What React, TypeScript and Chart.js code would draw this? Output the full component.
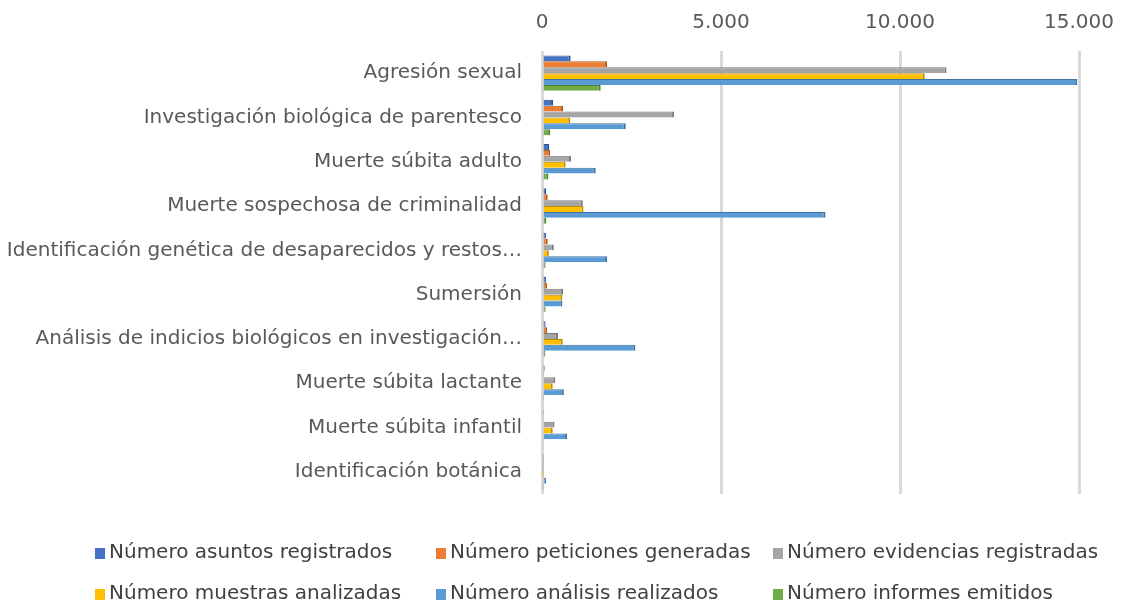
import React, { useEffect, useRef } from "react";
import { Chart, registerables } from "chart.js";

Chart.register(...registerables);

const categories = [
  "Agresión sexual",
  "Investigación biológica de parentesco",
  "Muerte súbita adulto",
  "Muerte sospechosa de criminalidad",
  "Identificación genética de desaparecidos y restos…",
  "Sumersión",
  "Análisis de indicios biológicos en investigación…",
  "Muerte súbita lactante",
  "Muerte súbita infantil",
  "Identificación botánica",
];

const seriesNames = [
  "Número asuntos registrados",
  "Número peticiones generadas",
  "Número evidencias registradas",
  "Número muestras analizadas",
  "Número análisis realizados",
  "Número informes emitidos",
];

const asuntos = [800, 310, 200, 120, 110, 110, 100, 75, 60, 20];
const peticiones = [1820, 590, 230, 160, 160, 140, 140, 60, 50, 15];
const evidencias = [11300, 3690, 810, 1140, 330, 590, 450, 370, 350, 10];
const muestras = [10690, 790, 660, 1160, 190, 570, 580, 300, 300, 10];
const analisis = [14950, 2340, 1500, 7920, 1820, 570, 2610, 610, 700, 110];
const informes = [1640, 230, 180, 120, 100, 100, 90, 60, 50, 20];

const xTicks = [0, 5000, 10000, 15000];

const fillColors = ["#4472C4", "#ED7D31", "#A5A5A5", "#FFC000", "#5B9BD5", "#70AD47"];
const edgeColors = ["#2F528F", "#AE5A21", "#7B7B7B", "#BC8C00", "#41719C", "#507E32"];

const FONT = "'DejaVu Sans', sans-serif";

const fmt = (v: number) => String(v).replace(/\B(?=(\d{3})+(?!\d))/g, ".");

const gridLegend = {
  id: "gridLegend",
  afterDraw(chart: any) {
    const ctx = chart.ctx;
    const cols = [95, 436, 773];
    const rows = [552, 593];
    ctx.save();
    ctx.font = `20px ${FONT}`;
    ctx.textBaseline = "middle";
    ctx.textAlign = "left";
    chart.data.datasets.forEach((ds: any, i: number) => {
      const x = cols[i % 3];
      const y = rows[Math.floor(i / 3)];
      ctx.fillStyle = ds.backgroundColor;
      ctx.fillRect(x, y - 4, 10, 11);
      ctx.fillStyle = "#404040";
      ctx.fillText(ds.label, x + 14, y + 1);
    });
    ctx.restore();
  },
};

export default function App() {
  const ref = useRef<HTMLCanvasElement>(null);

  useEffect(() => {
    document.body.style.margin = "0";
    const values = [asuntos, peticiones, evidencias, muestras, analisis, informes];
    const chart = new Chart(ref.current!, {
      type: "bar",
      data: {
        labels: categories,
        datasets: values.map((d, i) => ({
          label: seriesNames[i],
          data: d,
          backgroundColor: fillColors[i],
          borderColor: edgeColors[i],
          borderWidth: { top: 1, right: 2, bottom: 0, left: 0 },
          borderSkipped: false,
          categoryPercentage: 0.8,
          barPercentage: 1,
        })),
      },
      options: {
        indexAxis: "y",
        responsive: false,
        maintainAspectRatio: false,
        animation: false,
        devicePixelRatio: 1,
        layout: { padding: { left: 0, right: 44, top: 0, bottom: 110 } },
        plugins: {
          legend: { display: false },
          tooltip: { enabled: false },
        },
        scales: {
          x: {
            position: "top",
            min: 0,
            max: 15000,
            afterBuildTicks: (axis: any) => {
              axis.ticks = xTicks.map((v) => ({ value: v }));
            },
            afterFit: (axis: any) => {
              axis.height = 51;
              axis.paddingLeft = 0;
              axis.paddingRight = 0;
            },
            ticks: {
              callback: (v: any) => fmt(Number(v)),
              font: { family: FONT, size: 20 },
              color: "#595959",
              padding: 16,
            },
            grid: { color: "#D9D9D9", lineWidth: 3, drawTicks: false },
            border: { display: false },
          },
          y: {
            afterFit: (axis: any) => {
              axis.width = 542;
            },
            ticks: {
              font: { family: FONT, size: 20 },
              color: "#595959",
              padding: 20,
              autoSkip: false,
            },
            grid: { display: false, drawTicks: false },
            border: { display: false },
          },
        },
      },
      plugins: [gridLegend],
    });
    return () => chart.destroy();
  }, []);

  return (
    <div style={{ position: "absolute", left: 0, top: 0, width: 1123, height: 604, background: "#fff" }}>
      <canvas ref={ref} width={1123} height={604} style={{ display: "block" }} />
    </div>
  );
}
